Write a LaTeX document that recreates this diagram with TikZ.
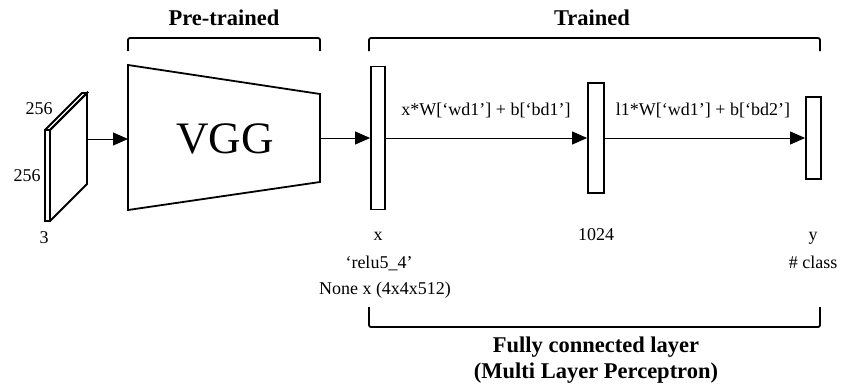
\documentclass[tikz,border=0pt]{standalone}
\usepackage{fontspec}
\setmainfont{Liberation Serif}
\usetikzlibrary{arrows.meta}

\begin{document}
\begin{tikzpicture}[x=1pt,y=1pt,line width=1.8pt]
        \tikzset{every node/.style={inner sep=0pt,font=\fontsize{18}{21}\selectfont}}
        \tikzset{layer/.style={draw,line width=1.8pt,fill=white,minimum width=14pt}}
        \tikzset{flow/.style={-{Triangle[length=15pt,width=13pt]},line width=1pt}}
        \tikzset{head/.style={font=\bfseries\fontsize{22.5}{26}\selectfont}}
        \tikzset{brace/.style={line width=1.8pt,rounded corners=2pt}}
        \useasboundingbox (0,0) rectangle (846,-388);
        % input image
        \draw (45,-130) rectangle (50,-221);
        \draw (45,-130) -- (82,-93) -- (87,-93) -- (50,-130);
        \draw (50,-130) -- (87,-93) -- (87,-184) -- (50,-221);
        \coordinate (img) at (87,-139);
        \node (imgw) at (39,-109) {256};
        \node (imgh) at (27,-176) {256};
        \node (imgc) at (44,-238) {3};
        % VGG
        \draw (128,-65) -- (320,-94) -- (320,-182) -- (128,-210) -- cycle;
        \node[font=\fontsize{45}{48}\selectfont] (vgg) at (225,-139) {VGG};
        \coordinate (vggin) at (128,-139);
        \coordinate (vggout) at (320,-138);
        % fully connected layers
        \node[layer,minimum height=143pt] (fcx) at (378,-138) {};
        \node[layer,minimum height=110pt,minimum width=16pt] (fch) at (596,-138) {};
        \node[layer,minimum height=82pt,minimum width=15pt] (fcy) at (813.5,-138) {};
        \draw[flow] (img) -- (vggin);
        \draw[flow] (vggout) -- (fcx.west);
        \draw[flow] (fcx.east) -- (fch.west);
        \draw[flow] (fch.east) -- (fcy.west);
        \node (wx) at (486,-110) {x*W[`wd1'] + b[`bd1']};
        \node (wh) at (703,-110) {l1*W[`wd1'] + b[`bd2']};
        % labels below
        \node[anchor=base] (lblx) at (378,-240) {x};
        \node[anchor=base] (lblrelu) at (379,-268) {`relu5\_4'};
        \node[anchor=base] (lblnone) at (385,-294) {None x (4x4x512)};
        \node[anchor=base] (lblh) at (596,-240) {1024};
        \node[anchor=base] (lbly) at (813,-240) {y};
        \node[anchor=base] (lblcls) at (813,-268) {\# class};
        % brackets
        \draw[brace] (128,-51) -- (128,-38) -- (320,-38) -- (320,-51);
        \node[head,anchor=base] (pre) at (224,-25) {Pre-trained};
        \draw[brace] (369,-51) -- (369,-38) -- (820,-38) -- (820,-51);
        \node[head,anchor=base] (trn) at (592,-25) {Trained};
        \draw[brace] (369,-307) -- (369,-327) -- (820,-327) -- (820,-307);
        \node[head,anchor=base] (fc) at (596,-352) {Fully connected layer};
        \node[head,anchor=base] (mlp) at (596,-378) {(Multi Layer Perceptron)};
\end{tikzpicture}
\end{document}
